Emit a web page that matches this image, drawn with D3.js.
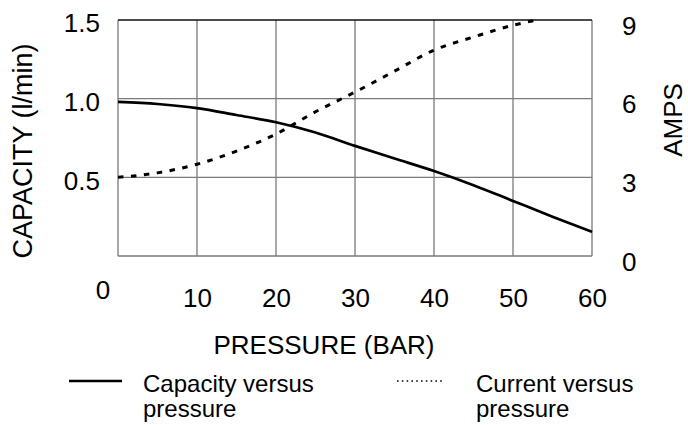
<!DOCTYPE html>
<html>
<head>
<meta charset="utf-8">
<script src="https://cdn.jsdelivr.net/npm/d3@7"></script>
<style>
  html, body { margin: 0; padding: 0; background: #fff; }
  svg { display: block; font-family: "Liberation Sans", Arial, sans-serif; }
</style>
</head>
<body>
<svg id="chart" width="688" height="425"></svg>
<script>
// ---- data ----
const pressure = [0, 5, 10, 15, 20, 25, 30, 35, 40, 45, 50, 55, 60];
const capacity = [0.979, 0.966, 0.94, 0.896, 0.85, 0.785, 0.70, 0.62, 0.54, 0.45, 0.35, 0.25, 0.153];
const currentPressure = [0, 5, 10, 15, 20, 25, 30, 35, 40, 45, 50, 53];
const current = [3.0, 3.17, 3.5, 4.0, 4.65, 5.5, 6.25, 7.05, 7.85, 8.35, 8.8, 9.0];
const xTicks = [10, 20, 30, 40, 50, 60];
const yLeftTicks = [0.5, 1.0, 1.5];
const yRightTicks = [0, 3, 6, 9];
const xTitle = "PRESSURE (BAR)";
const yLeftTitle = "CAPACITY (l/min)";
const yRightTitle = "AMPS";
const legendItems = [
  { lines: ["Capacity versus", "pressure"], style: "solid" },
  { lines: ["Current versus", "pressure"], style: "dotted" }
];

// ---- layout ----
const svg = d3.select("#chart");
const L = 118, T = 20, R = 592, B = 256;
const x = d3.scaleLinear().domain([0, 60]).range([L, R]);
const yL = d3.scaleLinear().domain([0, 1.5]).range([B, T]);
const yR = d3.scaleLinear().domain([0, 9]).range([B, T]);
const gridColor = "#7a7a7a";
const tickFont = 26;
const FF = "Liberation Sans, Arial, sans-serif";

// grid
const g = svg.append("g");
g.selectAll("line.v").data(xTicks.slice(0, -1)).join("line")
  .attr("x1", d => x(d)).attr("x2", d => x(d)).attr("y1", T).attr("y2", B)
  .attr("stroke", gridColor).attr("stroke-width", 1.3);
g.selectAll("line.h").data(yLeftTicks.slice(0, -1)).join("line")
  .attr("x1", L).attr("x2", R).attr("y1", d => yL(d)).attr("y2", d => yL(d))
  .attr("stroke", gridColor).attr("stroke-width", 1.3);
// frame
g.append("line").attr("x1", L).attr("x2", L).attr("y1", T).attr("y2", B).attr("stroke", gridColor).attr("stroke-width", 1.3);
g.append("line").attr("x1", R).attr("x2", R).attr("y1", T).attr("y2", B).attr("stroke", gridColor).attr("stroke-width", 1.3);
g.append("line").attr("x1", L).attr("x2", R).attr("y1", B).attr("y2", B).attr("stroke", gridColor).attr("stroke-width", 1.3);
g.append("line").attr("x1", L).attr("x2", R).attr("y1", T).attr("y2", T).attr("stroke", "#111").attr("stroke-width", 1.3);

// axes (labels only)
const xAxis = d3.axisBottom(x).tickValues(xTicks).tickSize(0).tickPadding(0).tickFormat(d3.format("d"));
const xa = svg.append("g").attr("transform", `translate(0,${B})`).call(xAxis);
xa.select(".domain").remove();
xa.selectAll("text").attr("font-size", tickFont).attr("font-family", FF)
  .attr("fill", "#000").attr("dy", null).attr("y", 51);
svg.append("text").attr("x", x(0) - 15).attr("y", 299).attr("text-anchor", "middle")
  .attr("font-size", tickFont).text("0");

const yAxisL = d3.axisLeft(yL).tickValues(yLeftTicks).tickSize(0).tickPadding(18).tickFormat(d3.format(".1f"));
const ya = svg.append("g").attr("transform", `translate(${L},0)`).call(yAxisL);
ya.select(".domain").remove();
ya.selectAll("text").attr("font-size", tickFont).attr("font-family", FF)
  .attr("fill", "#000").attr("dy", "0.45em");

const yAxisR = d3.axisRight(yR).tickValues(yRightTicks).tickSize(0).tickPadding(30).tickFormat(d3.format("d"));
const yra = svg.append("g").attr("transform", `translate(${R},0)`).call(yAxisR);
yra.select(".domain").remove();
yra.selectAll("text").attr("font-size", tickFont).attr("font-family", FF)
  .attr("fill", "#000").attr("dy", "0.55em");

// titles
svg.append("text").attr("x", 324).attr("y", 354).attr("text-anchor", "middle")
  .attr("font-size", 26).text(xTitle);
svg.append("text").attr("transform", "translate(32,151) rotate(-90)").attr("text-anchor", "middle")
  .attr("font-size", 27).text(yLeftTitle);
svg.append("text").attr("transform", "translate(682,120) rotate(-90)").attr("text-anchor", "middle")
  .attr("font-size", 26).text(yRightTitle);

// curves
const capLine = d3.line().x((d, i) => x(pressure[i])).y(d => yL(d)).curve(d3.curveMonotoneX);
svg.append("path").attr("d", capLine(capacity)).attr("fill", "none")
  .attr("stroke", "#000").attr("stroke-width", 2.7);
const curLine = d3.line().x((d, i) => x(currentPressure[i])).y(d => yR(d)).curve(d3.curveMonotoneX);
svg.append("path").attr("d", curLine(current)).attr("fill", "none")
  .attr("stroke", "#000").attr("stroke-width", 3).attr("stroke-dasharray", "5.5,7.5");

// legend
const legendX = [{ lx1: 69, lx2: 122, tx: 143 }, { lx1: 397, lx2: 445, tx: 476 }];
legendItems.forEach((item, i) => {
  const p = legendX[i];
  const ln = svg.append("line").attr("x1", p.lx1).attr("x2", p.lx2).attr("y1", 381).attr("y2", 381)
    .attr("stroke", "#000");
  if (item.style === "solid") ln.attr("stroke-width", 2.4);
  else ln.attr("stroke-width", 1.6).attr("stroke-dasharray", "1.6,3.2");
  const t = svg.append("text").attr("x", p.tx).attr("y", 392).attr("font-size", 24);
  item.lines.forEach((s, j) => {
    t.append("tspan").attr("x", p.tx).attr("y", 392 + j * 25).text(s);
  });
});
</script>
</body>
</html>
